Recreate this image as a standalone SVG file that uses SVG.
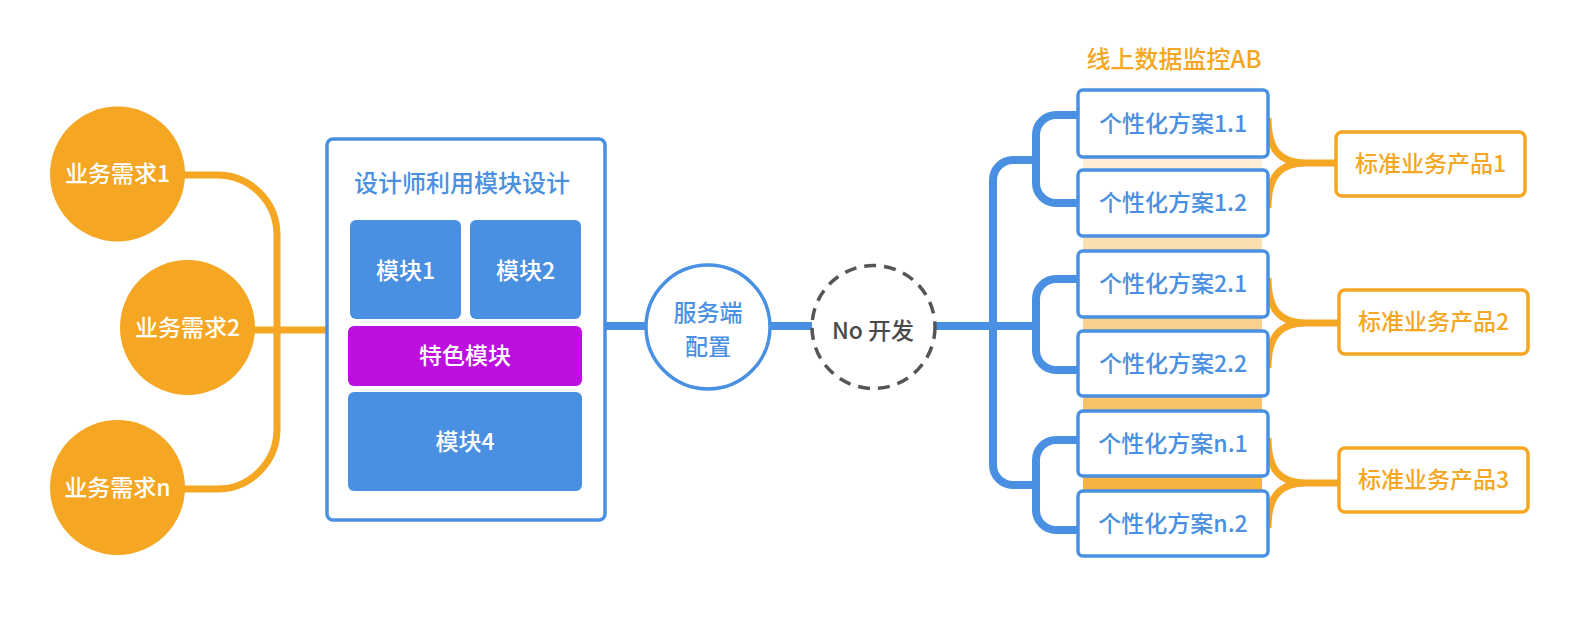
<svg xmlns="http://www.w3.org/2000/svg" width="1586" height="624" viewBox="0 0 1586 624">
<defs>
<linearGradient id="band" x1="0" y1="0" x2="0" y2="1">
<stop offset="0" stop-color="#FFFFFF"/>
<stop offset="1" stop-color="#F5A623"/>
</linearGradient>
<style>
text{font-family:"Noto Sans CJK SC","Noto Sans",sans-serif;font-size:23px;text-anchor:middle;font-weight:500}
.w{fill:#FFFFFF}
.b{fill:#4A90E2}
.o{fill:#F5A623}
.g{fill:#4A4A4A}
.oc{fill:#F5A623}
.mod{fill:#4A90E2}
.plan{fill:#FFFFFF;stroke:#4A90E2;stroke-width:3.5}
.prod{fill:#FFFFFF;stroke:#F5A623;stroke-width:3.5}
.ol{fill:none;stroke:#F5A623;stroke-width:7}
.bl{fill:none;stroke:#4A90E2;stroke-width:8}
</style>
</defs>
<rect x="1083" y="72" width="179" height="484" fill="url(#band)"/>
<text class="o" x="1174" y="68" style="font-size:24px">线上数据监控AB</text>
<g id="connectors">
<path class="ol" d="M180,175 H217 A60,60 0 0 1 277,235 V429 A60,60 0 0 1 217,489 H180"/>
<path class="ol" d="M250,330 H327"/>
<path class="bl" d="M605,326 H645 M771,326 H812 M935,326 H1036"/>
<path class="bl" d="M1036,160 H1013 A20,20 0 0 0 993,180 V465 A20,20 0 0 0 1013,485 H1036"/>
<path class="bl" d="M1078,115 H1056 A20,20 0 0 0 1036,135 V183 A20,20 0 0 0 1056,203 H1078"/>
<path class="bl" d="M1078,279 H1056 A20,20 0 0 0 1036,299 V350 A20,20 0 0 0 1056,370 H1078"/>
<path class="bl" d="M1078,440 H1056 A20,20 0 0 0 1036,460 V510 A20,20 0 0 0 1056,530 H1078"/>
<path class="ol" d="M1268,118 C1268,150 1280,163 1306,163 M1268,208 C1268,176 1280,163 1306,163 M1300,163 H1336"/>
<path class="ol" d="M1268,278 C1268,310 1280,323 1306,323 M1268,368 C1268,336 1280,323 1306,323 M1300,323 H1339"/>
<path class="ol" d="M1268,438 C1268,470 1280,483 1306,483 M1268,528 C1268,496 1280,483 1306,483 M1300,483 H1339"/>
</g>
<g id="req1"><circle class="oc" cx="117.5" cy="174" r="67.5"/><text class="w" x="117.5" y="182">业务需求1</text></g>
<g id="req2"><circle class="oc" cx="187.5" cy="327.5" r="67.5"/><text class="w" x="187.5" y="336">业务需求2</text></g>
<g id="reqn"><circle class="oc" cx="117.5" cy="487.5" r="67.5"/><text class="w" x="117.5" y="496">业务需求n</text></g>
<g id="design">
<rect x="327" y="139" width="278" height="381" rx="6" fill="#FFFFFF" stroke="#4A90E2" stroke-width="3.5"/>
<text class="b" x="462" y="192" style="font-size:24px">设计师利用模块设计</text>
</g>
<g id="mod1"><rect class="mod" x="350" y="220" width="111" height="99" rx="6"/><text class="w" x="405.5" y="279">模块1</text></g>
<g id="mod2"><rect class="mod" x="470" y="220" width="111" height="99" rx="6"/><text class="w" x="525.5" y="279">模块2</text></g>
<g id="special"><rect x="348" y="326" width="234" height="60" rx="6" fill="#BD10E0"/><text class="w" x="465" y="364">特色模块</text></g>
<g id="mod4"><rect class="mod" x="348" y="392" width="234" height="99" rx="6"/><text class="w" x="465" y="450">模块4</text></g>
<g id="server"><circle cx="708" cy="327" r="62" fill="#FFFFFF" stroke="#4A90E2" stroke-width="3.5"/><text class="b" x="708" y="321">服务端</text><text class="b" x="708" y="355">配置</text></g>
<g id="nodev"><circle cx="873.5" cy="327" r="61.5" fill="#FFFFFF" stroke="#555555" stroke-width="3.5" stroke-dasharray="12 8"/><text class="g" x="873" y="339">No 开发</text></g>
<g id="p11"><rect class="plan" x="1078" y="90" width="190" height="67" rx="5"/><text class="b" x="1173" y="132">个性化方案1.1</text></g>
<g id="p12"><rect class="plan" x="1078" y="170" width="190" height="66" rx="5"/><text class="b" x="1173" y="211">个性化方案1.2</text></g>
<g id="p21"><rect class="plan" x="1078" y="251" width="190" height="66" rx="5"/><text class="b" x="1173" y="292">个性化方案2.1</text></g>
<g id="p22"><rect class="plan" x="1078" y="331" width="190" height="65" rx="5"/><text class="b" x="1173" y="372">个性化方案2.2</text></g>
<g id="pn1"><rect class="plan" x="1078" y="411" width="190" height="65" rx="5"/><text class="b" x="1173" y="452">个性化方案n.1</text></g>
<g id="pn2"><rect class="plan" x="1078" y="491" width="190" height="65" rx="5"/><text class="b" x="1173" y="532">个性化方案n.2</text></g>
<g id="prod1"><rect class="prod" x="1336" y="132" width="189" height="64" rx="6"/><text class="o" x="1430.5" y="172">标准业务产品1</text></g>
<g id="prod2"><rect class="prod" x="1339" y="290" width="189" height="64" rx="6"/><text class="o" x="1433.5" y="330">标准业务产品2</text></g>
<g id="prod3"><rect class="prod" x="1339" y="448" width="189" height="64" rx="6"/><text class="o" x="1433.5" y="488">标准业务产品3</text></g>
</svg>
